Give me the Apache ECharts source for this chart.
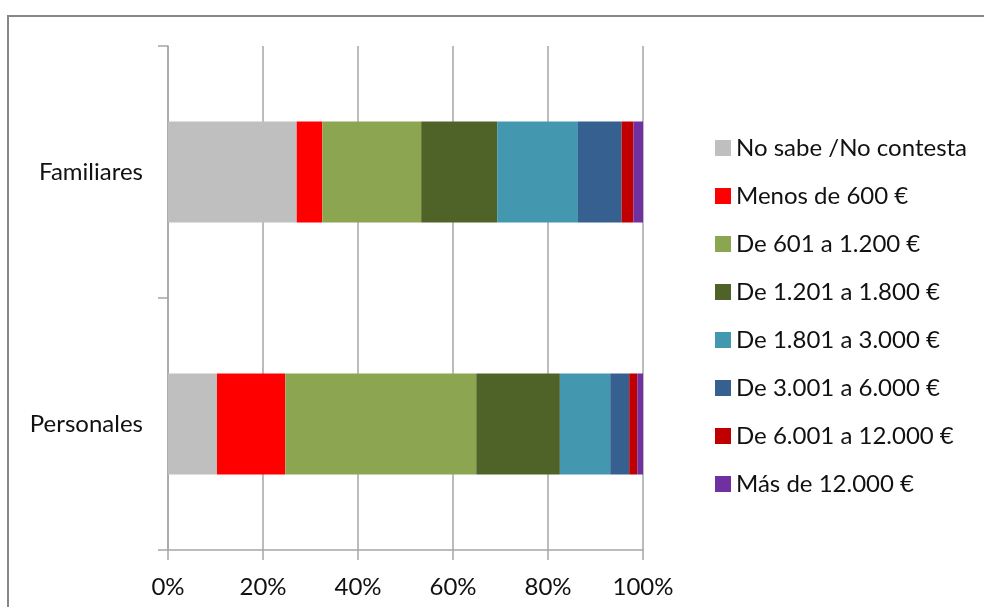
<!DOCTYPE html>
<html>
<head>
<meta charset="utf-8">
<script src="https://cdn.jsdelivr.net/npm/echarts@6/dist/echarts.min.js"></script>
<style>
  html, body { margin: 0; padding: 0; background: #fff; }
  #main { width: 984px; height: 607px; }
</style>
</head>
<body>
<div id="main"></div>
<script>
  // categorias (de abajo arriba)
  var categorias = ['Personales', 'Familiares'];
  var tramos = ['No sabe /No contesta', 'Menos de 600 €', 'De 601 a 1.200 €', 'De 1.201 a 1.800 €',
    'De 1.801 a 3.000 €', 'De 3.001 a 6.000 €', 'De 6.001 a 12.000 €', 'Más de 12.000 €'];
  var colores = ['#BFBFBF', '#FF0000', '#8BA550', '#4F6228', '#4397AF', '#35608F', '#C00000', '#7030A0'];

  // porcentajes por tramo: [Personales, Familiares]
  var noSabe = [10.3, 27.1];
  var menos600 = [14.4, 5.4];
  var de601 = [40.2, 20.8];
  var de1201 = [17.6, 16.0];
  var de1801 = [10.6, 17.0];
  var de3001 = [4.0, 9.2];
  var de6001 = [1.7, 2.5];
  var mas12000 = [1.2, 2.0];

  var valores = [noSabe, menos600, de601, de1201, de1801, de3001, de6001, mas12000];
  var ticksX = [0, 20, 40, 60, 80, 100];

  var font = 'Lato, "Open Sans", sans-serif';
  var gris = '#A6A6A6';

  var series = tramos.map(function (nombre, i) {
    return {
      name: nombre,
      type: 'bar',
      stack: 'total',
      barWidth: 101,
      itemStyle: { color: colores[i] },
      data: valores[i]
    };
  });

  var myChart = echarts.init(document.getElementById('main'));
  var option = {
    backgroundColor: '#fff',
    animation: false,
    color: colores,
    graphic: [{
      type: 'rect',
      shape: { x: 8, y: 16, width: 1000, height: 700 },
      style: { fill: 'none', stroke: '#878787', lineWidth: 2 },
      silent: true
    }],
    grid: { left: 168, right: 341, top: 46, bottom: 57 },
    legend: {
      orient: 'vertical',
      left: 710,
      top: 131,
      icon: 'rect',
      itemWidth: 16,
      itemHeight: 16,
      itemGap: 24,
      data: tramos,
      textStyle: { fontFamily: font, fontSize: 24, color: '#111', lineHeight: 24 }
    },
    xAxis: {
      type: 'value',
      min: ticksX[0],
      max: ticksX[ticksX.length - 1],
      interval: 20,
      axisLine: { show: true, lineStyle: { color: gris, width: 1.5 } },
      axisTick: { show: true, length: 10, lineStyle: { color: gris, width: 1.5 } },
      splitLine: { show: true, lineStyle: { color: gris, width: 1.5 } },
      axisLabel: {
        margin: 25,
        formatter: '{value}%',
        fontFamily: font,
        fontSize: 24,
        color: '#111'
      }
    },
    yAxis: {
      type: 'category',
      data: categorias,
      axisLine: { show: true, lineStyle: { color: gris, width: 1.5 } },
      axisTick: { show: true, length: 10, lineStyle: { color: gris, width: 1.5 } },
      axisLabel: {
        margin: 25,
        fontFamily: font,
        fontSize: 24,
        color: '#111'
      }
    },
    series: series
  };
  myChart.setOption(option, true);
</script>
</body>
</html>
